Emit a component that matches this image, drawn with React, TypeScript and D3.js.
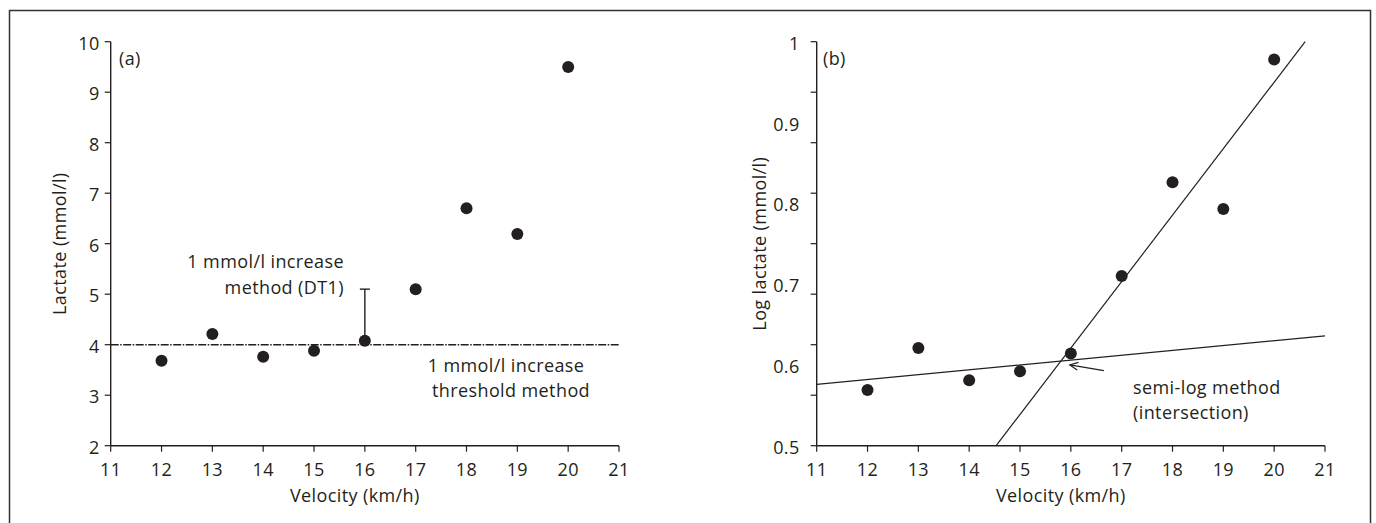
import React from 'react';
import * as d3 from 'd3';

// Data
const velocity = [12, 13, 14, 15, 16, 17, 18, 19, 20];
const lactate = [3.68, 4.21, 3.76, 3.88, 4.08, 5.1, 6.7, 6.19, 9.5];
const logLactate = [0.569, 0.621, 0.581, 0.592, 0.614, 0.71, 0.826, 0.793, 0.978];

const xTicks = [11, 12, 13, 14, 15, 16, 17, 18, 19, 20, 21];
const yTicksA = [2, 3, 4, 5, 6, 7, 8, 9, 10];
const yTickMarksB = d3.range(9).map((i) => 0.5 + i * 0.0625);
const yLabelsB = [0.5, 0.6, 0.7, 0.8, 0.9, 1];

const thresholdLevel = 4;
const dt1Velocity = 16;
const dt1From = 4.08;
const dt1To = 5.1;

// semi-log regression lines [x, y] endpoints
const flatLine = [[11, 0.576], [21, 0.636]];
const steepLine = [[14.53, 0.5], [20.61, 1.0]];
const intersectArrow = [[16.65, 0.593], [15.98, 0.6]];

const W = 1376;
const H = 523;
const FONT = "'Open Sans', sans-serif";
const FS = 18;
const LS = 0.4;
const INK = '#231f20';

const top = 41.7;
const bottom = 445.7;

export default function App() {
  // panel a scales
  const xa = d3.scaleLinear().domain([11, 21]).range([110.7, 619]);
  const ya = d3.scaleLinear().domain([2, 10]).range([bottom, top]);
  // panel b scales
  const xb = d3.scaleLinear().domain([11, 21]).range([816.7, 1325]);
  const yb = d3.scaleLinear().domain([0.5, 1]).range([bottom, top]);

  const line = d3.line();

  const xAxis = (x) => (
    <g>
      <line x1={x(11)} x2={x(21)} y1={bottom} y2={bottom} stroke={INK} strokeWidth={1.4} />
      {xTicks.map((t) => (
        <g key={t}>
          <line x1={x(t)} x2={x(t)} y1={bottom} y2={bottom + 6} stroke={INK} strokeWidth={1.2} />
          <text x={x(t)} y={bottom + 30} textAnchor="middle">{t}</text>
        </g>
      ))}
      <text x={(x(11) + x(21)) / 2 - 10} y={bottom + 56} textAnchor="middle">Velocity (km/h)</text>
    </g>
  );

  return (
    <svg width={W} height={H} style={{ position: 'absolute', left: 0, top: 0 }}
      fontFamily={FONT} fontSize={FS} letterSpacing={LS} fill={INK}>
      <rect x={0} y={0} width={W} height={H} fill="#fff" />
      {/* outer frame */}
      <path d={`M9.5,${H} V10.5 H1370.5 V${H}`} fill="none" stroke="#333" strokeWidth={1.5} />

      {/* Panel (a) */}
      <g>
        <line x1={xa(11)} x2={xa(11)} y1={top} y2={bottom} stroke={INK} strokeWidth={1.4} />
        {yTicksA.map((t) => (
          <g key={t}>
            <line x1={xa(11) - 6} x2={xa(11)} y1={ya(t)} y2={ya(t)} stroke={INK} strokeWidth={1.2} />
            <text x={xa(11) - 11} y={ya(t) + 8} textAnchor="end">{t}</text>
          </g>
        ))}
        {xAxis(xa)}
        <text transform={`translate(66,${(top + bottom) / 2}) rotate(-90)`} textAnchor="middle">Lactate (mmol/l)</text>
        <text x={119} y={65}>(a)</text>

        <line x1={xa(11)} x2={xa(21)} y1={ya(thresholdLevel)} y2={ya(thresholdLevel)} stroke={INK} strokeWidth={1.4} strokeDasharray="8,1.5,1.5,1.5" />
        <line x1={xa(dt1Velocity)} x2={xa(dt1Velocity)} y1={ya(dt1From)} y2={ya(dt1To)} stroke={INK} strokeWidth={1.4} />
        <line x1={xa(dt1Velocity) - 5} x2={xa(dt1Velocity) + 5} y1={ya(dt1To)} y2={ya(dt1To)} stroke={INK} strokeWidth={1.4} />

        {velocity.map((v, i) => (
          <circle key={v} cx={xa(v)} cy={ya(lactate[i])} r={6} />
        ))}

        <text textAnchor="end">
          <tspan x={344} y={268}>1 mmol/l increase</tspan>
          <tspan x={344} y={294}>method (DT1)</tspan>
        </text>
        <text textAnchor="middle">
          <tspan x={506} y={372}>1 mmol/l increase</tspan>
          <tspan x={511} y={397}>threshold method</tspan>
        </text>
      </g>

      {/* Panel (b) */}
      <g>
        <line x1={xb(11)} x2={xb(11)} y1={top} y2={bottom} stroke={INK} strokeWidth={1.4} />
        {yTickMarksB.map((t) => (
          <line key={t} x1={xb(11) - 6} x2={xb(11)} y1={yb(t)} y2={yb(t)} stroke={INK} strokeWidth={1.2} />
        ))}
        {yLabelsB.map((t) => (
          <text key={t} x={xb(11) - 17} y={yb(t) + 8} textAnchor="end">{t}</text>
        ))}
        {xAxis(xb)}
        <text transform={`translate(766,${(top + bottom) / 2}) rotate(-90)`} textAnchor="middle">Log lactate (mmol/l)</text>
        <text x={823} y={65}>(b)</text>

        <path d={line(flatLine.map(([x, y]) => [xb(x), yb(y)]))} fill="none" stroke={INK} strokeWidth={1.2} />
        <path d={line(steepLine.map(([x, y]) => [xb(x), yb(y)]))} fill="none" stroke={INK} strokeWidth={1.2} />

        {velocity.map((v, i) => (
          <circle key={v} cx={xb(v)} cy={yb(logLactate[i])} r={6} />
        ))}

        {(() => {
          const [[x0, y0], [x1, y1]] = intersectArrow;
          const sx = xb(x0), sy = yb(y0), ex = xb(x1), ey = yb(y1);
          const ang = Math.atan2(ey - sy, ex - sx);
          const hl = 9, ha = 0.45;
          const p1 = [ex - hl * Math.cos(ang - ha), ey - hl * Math.sin(ang - ha)];
          const p2 = [ex - hl * Math.cos(ang + ha), ey - hl * Math.sin(ang + ha)];
          return (
            <g stroke={INK} strokeWidth={1.2} fill="none">
              <line x1={sx} y1={sy} x2={ex} y2={ey} />
              <path d={`M${p1[0]},${p1[1]} L${ex},${ey} L${p2[0]},${p2[1]}`} />
            </g>
          );
        })()}
        <text>
          <tspan x={1133} y={394}>semi-log method</tspan>
          <tspan x={1133} y={419}>(intersection)</tspan>
        </text>
      </g>
    </svg>
  );
}
